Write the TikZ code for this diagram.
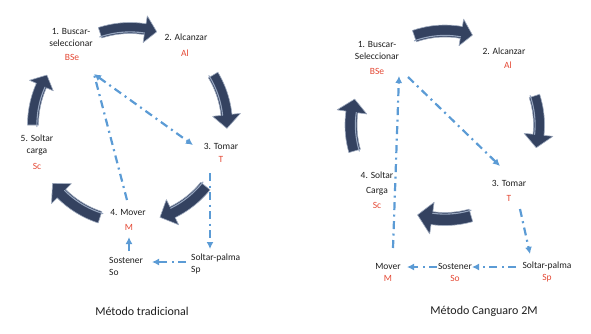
\documentclass[tikz,border=0pt]{standalone}
\usepackage{fontspec}
\setmainfont{Carlito}
\usetikzlibrary{arrows.meta}
\definecolor{navy}{RGB}{52,66,96}
\definecolor{navyedge}{RGB}{160,172,192}
\definecolor{navylight}{RGB}{150,165,190}
\definecolor{connblue}{RGB}{91,155,213}
\definecolor{redlbl}{RGB}{228,72,52}
\definecolor{txt}{RGB}{30,30,30}
\tikzset{
 lbl/.style={font=\fontsize{9.5}{12}\selectfont, text=txt, inner sep=0pt, align=center},
 code/.style={font=\fontsize{9.5}{11}\selectfont, text=redlbl, inner sep=0pt},
 caption/.style={font=\fontsize{12}{14}\selectfont, text=txt, inner sep=0pt},
 conn/.style={draw=connblue, line width=2.2pt, dash pattern=on 8pt off 4.5pt on 2pt off 4.5pt},
 connsolid/.style={draw=connblue, line width=2.2pt},
 blockarrow/.style={fill=navy, draw=navyedge, line width=0.6pt, line join=round},
 highlight/.style={draw=navylight, line width=1.1pt, line cap=round},
 >={Latex[length=7pt,width=7pt]}
}
% cx cy R a1 a2 bodywidth headwidth headangle
\newcommand\blkarrow[8]{%
 \pgfmathsetmacro\hb{#5+#8}%
 \filldraw[blockarrow] plot[domain=#4:\hb, samples=16, variable=\t] ({#1+(#3+#6/2)*cos(\t)},{#2-(#3+#6/2)*sin(\t)})
  -- ({#1+(#3+#7/2)*cos(\hb)},{#2-(#3+#7/2)*sin(\hb)})
  -- ({#1+#3*cos(#5)},{#2-#3*sin(#5)})
  -- ({#1+(#3-#7/2)*cos(\hb)},{#2-(#3-#7/2)*sin(\hb)})
  -- plot[domain=\hb:#4, samples=16, variable=\t] ({#1+(#3-#6/2)*cos(\t)},{#2-(#3-#6/2)*sin(\t)})
  -- cycle;
 \draw[highlight] plot[domain=#4+1:\hb, samples=16, variable=\t] ({#1+(#3-#6/2+1.6)*cos(\t)},{#2-(#3-#6/2+1.6)*sin(\t)});}
\begin{document}
\begin{tikzpicture}[x=1pt,y=-1pt]
\useasboundingbox (0,0) rectangle (591,333);
% ---------- left panel: block arrows
\blkarrow{130}{125}{97}{108}{74}{11}{27}{7}
\blkarrow{130}{125}{97}{31}{-2}{11}{28}{8}
\blkarrow{130}{125}{97}{-39}{-72}{12}{28}{8}
\blkarrow{130}{125}{97}{-108}{-143}{12}{28}{8}
\blkarrow{130}{125}{97}{180}{149}{11}{26}{7}
% ---------- right panel: block arrows
\blkarrow{445}{125}{94}{109}{73}{12}{27}{7}
\blkarrow{445}{125}{94}{18}{-14}{11}{29}{8}
\blkarrow{445}{125}{94}{196}{164}{12}{30}{8}
\blkarrow{445}{125}{94}{-74}{-107}{13}{32}{9}
% ---------- left labels
\node[lbl] (l1) at (71,37.5) {1. Buscar-\\seleccionar};
\node[code] (lBSe) at (72,57) {BSe};
\node[lbl] (l2) at (186,37) {2. Alcanzar};
\node[code] (lAl) at (185,53) {Al};
\node[lbl] (l3) at (221,146) {3. Tomar};
\node[code] (lT) at (221,159) {T};
\node[lbl] (l5) at (37,145) {5. Soltar\\carga};
\node[code] (lSc) at (37,166) {Sc};
\node[lbl] (l4) at (128,212) {4. Mover};
\node[code] (lM) at (129,227) {M};
\node[lbl, align=left, anchor=west] (lSo) at (109,266) {Sostener\\So};
\node[lbl, align=left, anchor=west] (lSp) at (191,263.5) {Soltar-palma\\Sp};
\node[caption] (lcap) at (142,311) {Método tradicional};
% ---------- right labels
\node[lbl] (r1) at (377,50.5) {1. Buscar-\\Seleccionar};
\node[code] (rBSe) at (377,71) {BSe};
\node[lbl] (r2) at (504,51) {2. Alcanzar};
\node[code] (rAl) at (508,65) {Al};
\node[lbl] (r3) at (509,183) {3. Tomar};
\node[code] (rT) at (509,198) {T};
\node[lbl] (r4a) at (377,175) {4. Soltar};
\node[lbl] (r4b) at (377,191) {Carga};
\node[code] (rSc) at (377,205) {Sc};
\node[lbl] (rMv) at (388,266) {Mover};
\node[code] (rM) at (388,278) {M};
\node[lbl] (rSo) at (455,266) {Sostener};
\node[code] (rSoc) at (455,278) {So};
\node[lbl] (rSp) at (547,266) {Soltar-palma};
\node[code] (rSpc) at (547,278) {Sp};
\node[caption] (rcap) at (484,311) {Método Canguaro 2M};
% ---------- left connectors
\coordinate (lcA) at (94,74);
\coordinate (lcB) at (193,145);
\coordinate (lcC) at (127,200);
\coordinate (lcD) at (210,173);
\coordinate (lcE) at (210,249);
\coordinate (lcF) at (186,262);
\coordinate (lcG) at (152,262);
\coordinate (lcH) at (129,251);
\coordinate (lcI) at (129,237);
\draw[conn,<->] (lcA) -- (lcB);
\draw[conn] (lcC) -- (lcA);
\draw[conn,->] (lcD) -- (lcE);
\draw[conn,->] (lcF) -- (lcG);
\draw[connsolid,->] (lcH) -- (lcI);
% ---------- right connectors
\coordinate (rcA) at (393,248);
\coordinate (rcB) at (399,76);
\coordinate (rcC) at (408,77);
\coordinate (rcD) at (500,166);
\coordinate (rcE) at (520,209);
\coordinate (rcF) at (530,254);
\coordinate (rcG) at (516,267);
\coordinate (rcH) at (472,267);
\coordinate (rcI) at (437,267);
\coordinate (rcJ) at (407,267);
\draw[conn,->] (rcA) -- (rcB);
\draw[conn,->] (rcC) -- (rcD);
\draw[conn,->] (rcE) -- (rcF);
\draw[conn,->] (rcG) -- (rcH);
\draw[conn,->] (rcI) -- (rcJ);
\end{tikzpicture}
\end{document}
